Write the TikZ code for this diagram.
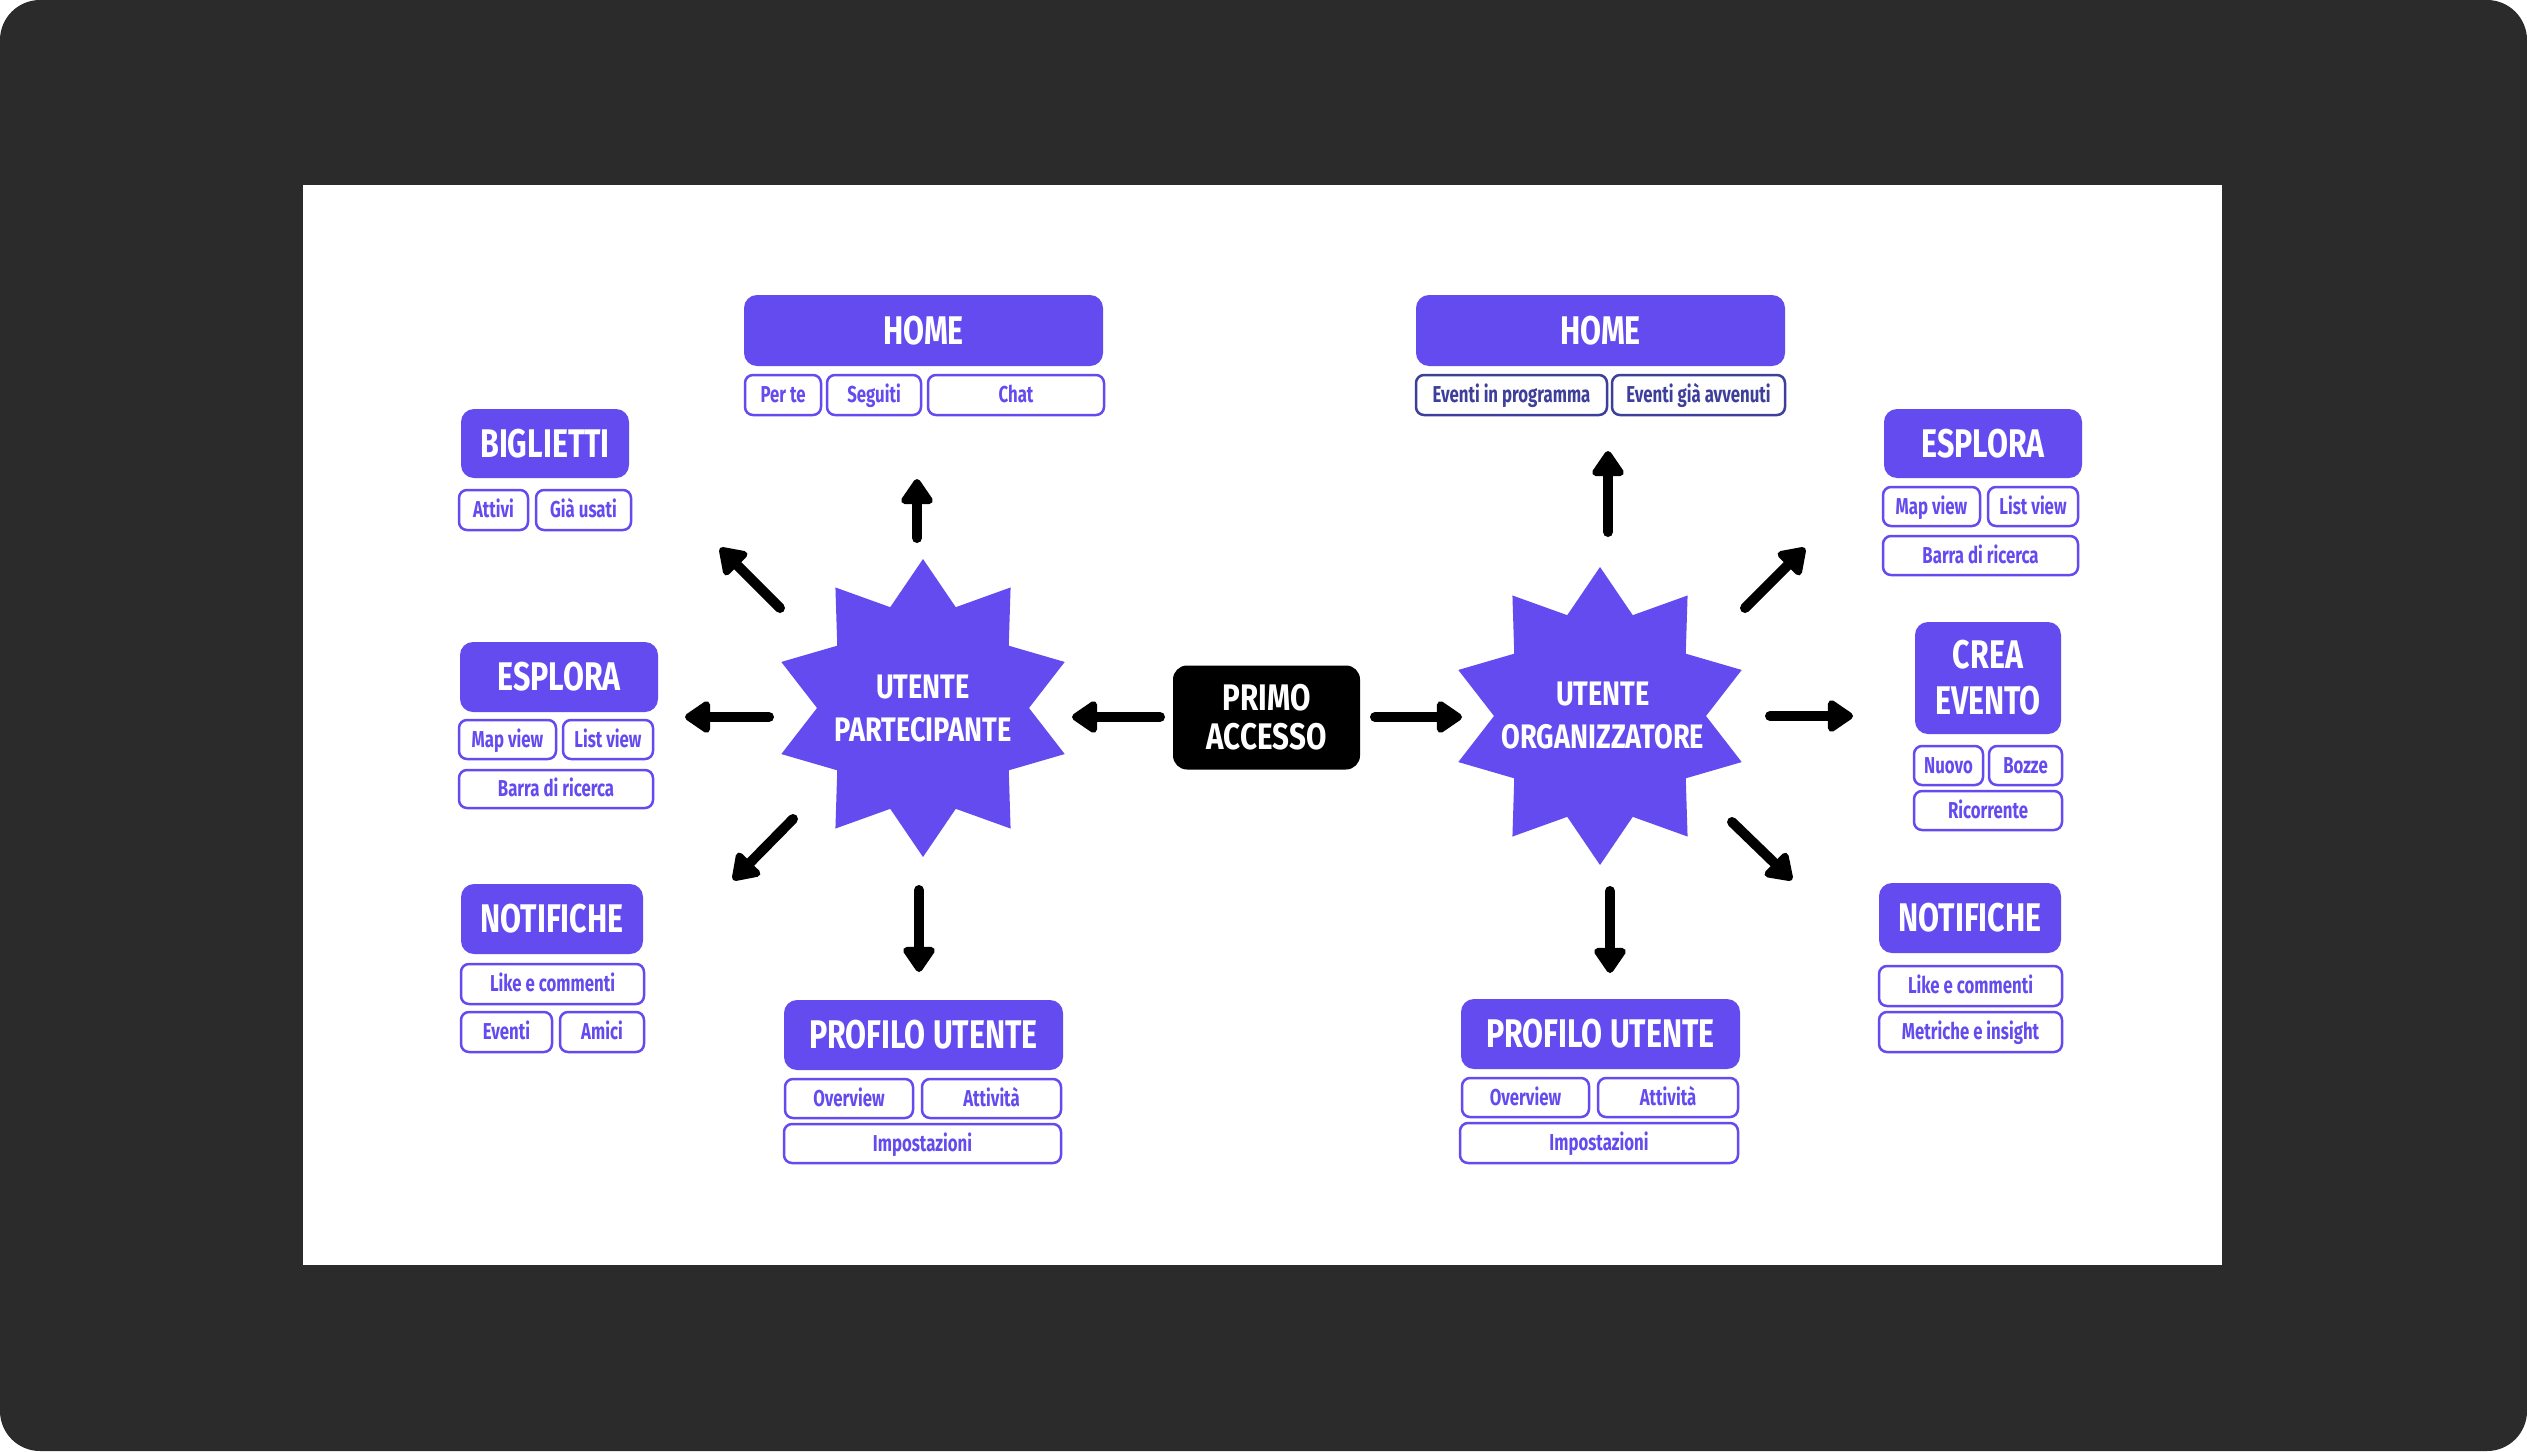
\documentclass[tikz,border=0pt]{standalone}
\usepackage{fontspec}
\setmainfont{Fira Sans}[FakeStretch=0.73]
\newfontfamily\ttlfam{Fira Sans}[FakeStretch=0.76]
\newfontfamily\strfam{Fira Sans}[FakeStretch=0.8]
\usetikzlibrary{arrows.meta}
\definecolor{pur}{HTML}{644BEF}
\definecolor{navy}{HTML}{3E3E9B}
\definecolor{dark}{HTML}{2B2B2B}
\newcommand{\titlef}{\ttlfam\fontsize{40}{46}\selectfont\bfseries}
\newcommand{\starf}{\strfam\fontsize{34}{43}\selectfont\bfseries}
\newcommand{\primof}{\strfam\fontsize{37}{39}\selectfont\bfseries}
\newcommand{\subf}{\fontsize{23}{26}\selectfont\bfseries}
\tikzset{
  titlebox/.style={fill=pur, rounded corners=13pt, text=white, font=\titlef, inner sep=0pt, align=center, text height=27.5pt, text depth=0pt},
  subbox/.style={draw=pur, line width=2.5pt, fill=white, rounded corners=8pt, text=pur, font=\subf, inner sep=0pt, minimum height=40pt, text height=15.8pt, text depth=0pt},
  startext/.style={text=white, font=\starf, align=center, inner sep=0pt, text height=66.4pt, text depth=0pt},
  arr/.style={line width=10pt, line cap=round, -{Triangle[length=28pt,width=36pt,round]}},
}
\begin{document}
\begin{tikzpicture}[x=1pt,y=-1pt]
\useasboundingbox (0,0) rectangle (2527,1451);
\fill[white] (0,0) rectangle (2527,1451);
\fill[dark, rounded corners=40pt] (0,0) rectangle (2527,1451);
\fill[white] (303,185) rectangle (2222,1265);

% stars
\fill[pur, shift={(923,708)}] (90:149) \foreach \i in {1,...,19}{ -- ({90+18*\i}:{127.5+21.5*cos(180*\i)}) } -- cycle;
\fill[pur, shift={(1600,716)}] (90:149) \foreach \i in {1,...,19}{ -- ({90+18*\i}:{127.5+21.5*cos(180*\i)}) } -- cycle;
\node[startext] (lstar) at (923,708) {UTENTE\\PARTECIPANTE};
\node[startext] (rstar) at (1603,715.5) {UTENTE\\ORGANIZZATORE};

% primo accesso
\node[fill=black, rounded corners=14pt, minimum width=187pt, minimum height=104pt, inner sep=0pt, text=white, align=center, font=\primof, text height=64.5pt, text depth=0pt] (primo) at (1266.5,717.5) {PRIMO\\ACCESSO};

% left HOME
\node[titlebox, minimum width=359pt, minimum height=71pt] (lhome) at (923.5,330.5) {HOME};
\node[subbox, minimum width=76pt] (lh1) at (783,395) {Per te};
\node[subbox, minimum width=94pt] (lh2) at (874,395) {Seguiti};
\node[subbox, minimum width=176pt] (lh3) at (1016,395) {Chat};

% right HOME
\node[titlebox, minimum width=369pt, minimum height=71pt] (rhome) at (1600.5,330.5) {HOME};
\node[subbox, draw=navy, text=navy, minimum width=191pt] (rh1) at (1511.5,395) {Eventi in programma};
\node[subbox, draw=navy, text=navy, minimum width=173pt] (rh2) at (1698.5,395) {Eventi già avvenuti};

% BIGLIETTI
\node[titlebox, minimum width=168pt, minimum height=69pt] (bigl) at (545,443.5) {BIGLIETTI};
\node[subbox, minimum width=69pt] (b1) at (493.5,510) {Attivi};
\node[subbox, minimum width=95pt] (b2) at (583.5,510) {Già usati};

% right ESPLORA
\node[titlebox, minimum width=198pt, minimum height=69pt] (resp) at (1983,443.5) {ESPLORA};
\node[subbox, minimum width=97pt, minimum height=39pt] (re1) at (1931.5,506.5) {Map view};
\node[subbox, minimum width=90pt, minimum height=39pt] (re2) at (2033,506.5) {List view};
\node[subbox, minimum width=195pt, minimum height=39pt] (re3) at (1980.5,555.5) {Barra di ricerca};

% left ESPLORA
\node[titlebox, minimum width=198pt, minimum height=70pt] (lesp) at (559,677) {ESPLORA};
\node[subbox, minimum width=97pt, minimum height=39pt] (le1) at (507.5,739.5) {Map view};
\node[subbox, minimum width=90pt, minimum height=39pt] (le2) at (608,739.5) {List view};
\node[subbox, minimum width=194pt, minimum height=38pt] (le3) at (556,789) {Barra di ricerca};

% CREA EVENTO
\node[titlebox, minimum width=146pt, minimum height=112pt, text height=73.5pt] (crea) at (1988,678) {CREA\\EVENTO};
\node[subbox, minimum width=69pt, minimum height=39pt] (c1) at (1948.5,765.5) {Nuovo};
\node[subbox, minimum width=73pt, minimum height=39pt] (c2) at (2025.5,765.5) {Bozze};
\node[subbox, minimum width=148pt, minimum height=39pt] (c3) at (1988,810.5) {Ricorrente};

% left NOTIFICHE
\node[titlebox, minimum width=182pt, minimum height=70pt] (lnot) at (552,919) {NOTIFICHE};
\node[subbox, minimum width=183pt] (ln1) at (552.5,984) {Like e commenti};
\node[subbox, minimum width=91pt] (ln2) at (506.5,1032) {Eventi};
\node[subbox, minimum width=84pt] (ln3) at (602,1032) {Amici};

% right NOTIFICHE
\node[titlebox, minimum width=182pt, minimum height=70pt] (rnot) at (1970,918) {NOTIFICHE};
\node[subbox, minimum width=183pt] (rn1) at (1970.5,986) {Like e commenti};
\node[subbox, minimum width=183pt] (rn2) at (1970.5,1032) {Metriche e insight};

% left PROFILO
\node[titlebox, minimum width=279pt, minimum height=70pt] (lprof) at (923.5,1035) {PROFILO UTENTE};
\node[subbox, minimum width=128pt, minimum height=39pt] (lp1) at (849,1098.5) {Overview};
\node[subbox, minimum width=139pt, minimum height=39pt] (lp2) at (991.5,1098.5) {Attività};
\node[subbox, minimum width=277pt, minimum height=39pt] (lp3) at (922.5,1143.5) {Impostazioni};

% right PROFILO
\node[titlebox, minimum width=279pt, minimum height=70pt] (rprof) at (1600.5,1034) {PROFILO UTENTE};
\node[subbox, minimum width=127pt, minimum height=39pt] (rp1) at (1525.5,1097.5) {Overview};
\node[subbox, minimum width=140pt, minimum height=39pt] (rp2) at (1668,1097.5) {Attività};
\node[subbox, minimum width=278pt] (rp3) at (1599,1143) {Impostazioni};

% arrow coordinates
\coordinate (pl0) at (1160,717); \coordinate (pl1) at (1072,717);
\coordinate (pr0) at (1375,717); \coordinate (pr1) at (1462,717);
\coordinate (lu0) at (917,538); \coordinate (lu1) at (917,479);
\coordinate (lul0) at (780,608); \coordinate (lul1) at (720,548);
\coordinate (ll0) at (769,717); \coordinate (ll1) at (685,717);
\coordinate (ldl0) at (793,819); \coordinate (ldl1) at (733,880);
\coordinate (ld0) at (919,890); \coordinate (ld1) at (919,972);
\coordinate (ru0) at (1608,532); \coordinate (ru1) at (1608,451);
\coordinate (rur0) at (1745,608); \coordinate (rur1) at (1805,548);
\coordinate (rr0) at (1770,716); \coordinate (rr1) at (1853,716);
\coordinate (rdr0) at (1732,822); \coordinate (rdr1) at (1792,880);
\coordinate (rd0) at (1610,891); \coordinate (rd1) at (1610,973);

\foreach \a in {pl,pr,lu,lul,ll,ldl,ld,ru,rur,rr,rdr,rd}{
  \draw[arr] (\a0) -- (\a1);
}
\end{tikzpicture}
\end{document}
